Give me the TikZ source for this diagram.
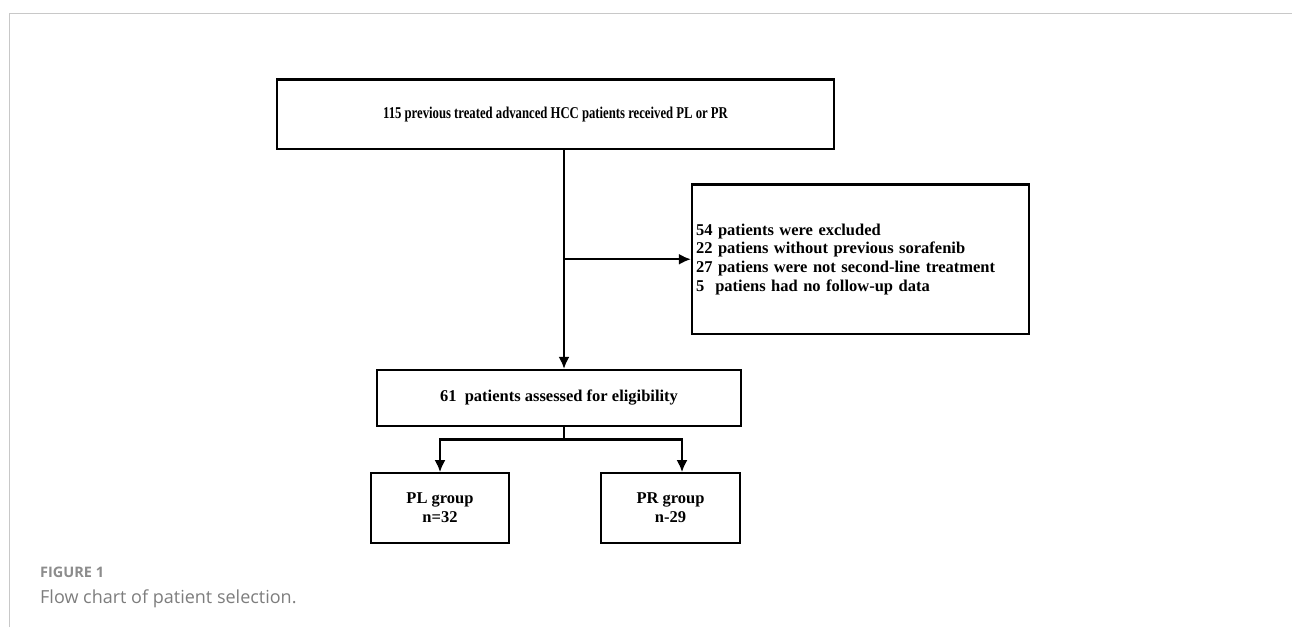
\documentclass[tikz,border=0pt]{standalone}
\usepackage{fontspec}
\setmainfont{Liberation Serif}
\newfontfamily\capfont{Open Sans}
\usepackage{graphicx}
\usepackage{xcolor}
\usetikzlibrary{positioning, shapes.geometric, arrows.meta}
\definecolor{framegray}{RGB}{200,200,200}
\definecolor{capgray}{RGB}{125,125,125}
\definecolor{figgray}{RGB}{140,140,140}
\tikzset{
	block/.style n args={2}{
		draw, % Draw a border
		rectangle, % Shape of the node
		line width=2.2pt, % Thick border
		minimum width=#1, % Width of the node
		minimum height=#2, % Height of the node
		align=center, % Text alignment within the node
		font=\fontsize{16.5}{18.7}\selectfont\bfseries
	},
	link/.style={
		line width=2.2pt, % Same weight as the borders
		-{Latex[length=12pt, width=11pt]} % Solid arrow head
	}
}

\begin{document}
\begin{tikzpicture}[x=1pt, y=-1pt]
	\useasboundingbox (0,0) rectangle (1292,627);
	
	% page frame
	\draw[framegray, line width=1pt] (9.5,627) -- (9.5,13) -- (1292,13);
	
	\node[block={557pt}{69.5pt}] (top) at (555.5,114.25) {\scalebox{0.77}[1]{115 previous treated advanced HCC patients received PL or PR}};
	
	\node[block={364pt}{55.7pt}, below of=top, node distance=283.6pt, xshift=3.5pt] (mid) {61\ \ patients assessed for eligibility};
	
	\node[block={337pt}{149.7pt}, align=left, text width=329pt, inner xsep=4pt, right of=top, node distance=305pt, yshift=-145pt] (excl) {54 patients were excluded\\22 patiens without previous sorafenib\\27 patiens were not second-line treatment\\5\ \ patiens had no follow-up data};
	
	\node[block={138pt}{69.4pt}, below of=mid, node distance=110.1pt, xshift=-119pt] (pl) {PL group\\n=32};
	\node[block={139pt}{69.4pt}, right of=pl, node distance=230.5pt] (pr) {PR group\\n-29};
	
	\coordinate (trunk) at (564,0);
	\draw[link] (top.south -| trunk) -- (mid.north -| trunk);
	\draw[link] (trunk |- excl.west) -- (excl.west);
	
	\draw[line width=2.2pt] (mid.south -| trunk) -- ++(0,12.6) coordinate (split);
	\draw[link, {Latex[length=12pt, width=11pt]}-{Latex[length=12pt, width=11pt]}] (pl.north) |- (split) -| ([xshift=11.5pt]pr.north);
	
	% caption
	\node[anchor=base west, inner sep=0, text=figgray, font={\capfont\fontsize{14.5}{17}\selectfont\bfseries}] (figlabel) at (40,577) {FIGURE 1};
	\node[anchor=base west, inner sep=0, text=capgray, font={\capfont\fontsize{18}{21}\selectfont}] (caption) at (40,603) {Flow chart of patient selection.};
	
\end{tikzpicture}
\end{document}
